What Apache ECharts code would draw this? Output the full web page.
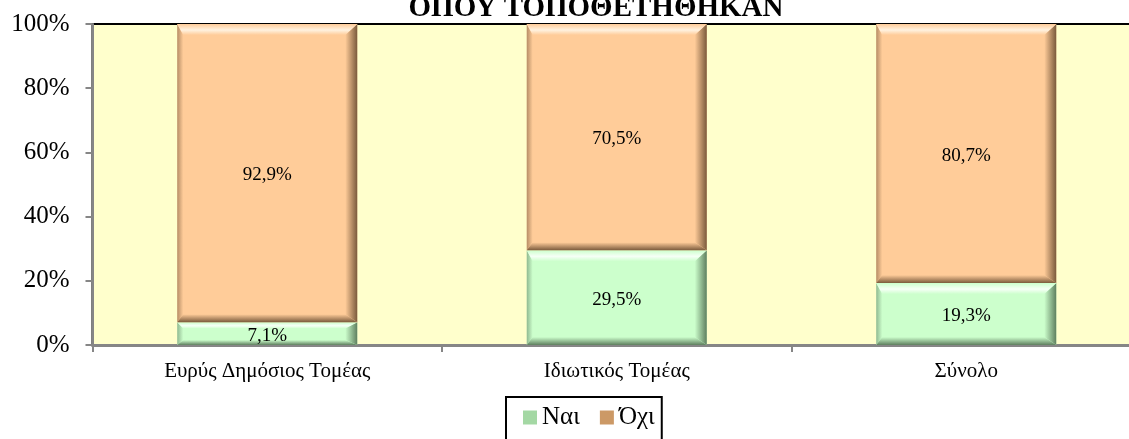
<!DOCTYPE html>
<html>
<head>
<meta charset="utf-8">
<script src="https://cdn.jsdelivr.net/npm/echarts@6/dist/echarts.min.js"></script>
<style>
html,body{margin:0;padding:0;background:#fff;}
#chart{width:1129px;height:439px;}
</style>
</head>
<body>
<div id="chart"></div>
<script>
const categories = ['Ευρύς Δημόσιος Τομέας', 'Ιδιωτικός Τομέας', 'Σύνολο'];
const naiValues = [7.1, 29.5, 19.3];
const oxiValues = [92.9, 70.5, 80.7];
const seriesNames = ['Ναι', 'Όχι'];
const titleText = 'ΟΠΟΥ ΤΟΠΟΘΕΤΗΘΗΚΑΝ';

const FONT = 'Liberation Serif';

function fmt(v) { return v.toFixed(1).replace('.', ',') + '%'; }

function makeRender(base, light, dark) {
  return function (params, api) {
    const i = api.value(0), s = api.value(1), e = api.value(2);
    const pT = api.coord([i, e]);
    const pB = api.coord([i, s]);
    const bw = api.size([1, 0])[0] * 0.515;
    const x0 = pT[0] - bw / 2, x1 = pT[0] + bw / 2;
    const yT = pT[1], yB = pB[1];
    const h = yB - yT;
    const bt = Math.min(11, h * 0.28);
    const bb = Math.min(8, h * 0.22);
    const bl = 6, br = 12;
    return {
      type: 'group',
      children: [
        { type: 'rect', shape: { x: x0, y: yT, width: bw, height: h }, style: { fill: base } },
        { type: 'polygon', shape: { points: [[x0, yT], [x0 + bl, yT + bt], [x0 + bl, yB - bb], [x0, yB]] },
          style: { fill: { type: 'linear', x: 0, y: 0, x2: 1, y2: 0, colorStops: [{ offset: 0, color: dark }, { offset: 1, color: base }] }, opacity: 0.55 } },
        { type: 'polygon', shape: { points: [[x1, yT], [x1, yB], [x1 - br, yB - bb], [x1 - br, yT + bt]] },
          style: { fill: { type: 'linear', x: 0, y: 0, x2: 1, y2: 0, colorStops: [{ offset: 0, color: base }, { offset: 1, color: dark }] } } },
        { type: 'polygon', shape: { points: [[x0, yB], [x1, yB], [x1 - br, yB - bb], [x0 + bl, yB - bb]] },
          style: { fill: { type: 'linear', x: 0, y: 0, x2: 0, y2: 1, colorStops: [{ offset: 0, color: base }, { offset: 1, color: dark }] } } },
        { type: 'polygon', shape: { points: [[x0, yT], [x1, yT], [x1 - br, yT + bt], [x0 + bl, yT + bt]] },
          style: { fill: { type: 'linear', x: 0, y: 0, x2: 0, y2: 1, colorStops: [{ offset: 0, color: base }, { offset: 0.55, color: light }, { offset: 1, color: base }] } } },
        { type: 'text', style: { text: fmt(e - s), x: pT[0], y: (yT + yB) / 2 + 2, align: 'center', verticalAlign: 'middle', fontSize: 19, fontFamily: FONT, fill: '#000' } }
      ]
    };
  };
}

const naiData = categories.map((c, i) => [i, 0, naiValues[i]]);
const oxiData = categories.map((c, i) => [i, naiValues[i], naiValues[i] + oxiValues[i]]);

const chart = echarts.init(document.getElementById('chart'), null, { renderer: 'canvas' });
chart.setOption({
  backgroundColor: '#ffffff',
  animation: false,
  textStyle: { fontFamily: FONT },
  title: {
    text: titleText,
    left: 591, textAlign: 'center',
    top: -11,
    textStyle: { fontFamily: FONT, fontWeight: 'bold', fontSize: 29, color: '#000', lineHeight: 29 }
  },
  legend: {
    data: seriesNames,
    left: 506, top: 397,
    orient: 'horizontal',
    icon: 'rect',
    itemWidth: 14, itemHeight: 14, itemGap: 20,
    padding: [8, 7, 14, 17],
    borderColor: '#000', borderWidth: 2,
    textStyle: { fontFamily: FONT, fontSize: 25, color: '#000', padding: [0, 0, 0, 0] }
  },
  grid: {
    left: 92.5, width: 1048.5, top: 24, height: 321,
    outerBoundsMode: 'none',
    containLabel: false,
    show: true, backgroundColor: '#FFFFCC', borderColor: '#000', borderWidth: 2
  },
  xAxis: {
    type: 'category',
    data: categories,
    boundaryGap: true,
    axisLine: { lineStyle: { color: '#868686', width: 3 } },
    axisTick: { show: true, length: 7, lineStyle: { color: '#868686', width: 2 } },
    axisLabel: { fontFamily: FONT, fontSize: 21, color: '#000', margin: 16 },
    splitLine: { show: false }
  },
  yAxis: {
    type: 'value',
    min: 0, max: 100, interval: 20,
    axisLine: { show: true, lineStyle: { color: '#868686', width: 2 } },
    axisTick: { show: true, length: 7, lineStyle: { color: '#868686', width: 2 } },
    axisLabel: { fontFamily: FONT, fontSize: 25, color: '#000', margin: 23, formatter: '{value}%' },
    splitLine: { show: false }
  },
  series: [
    {
      name: seriesNames[0], type: 'custom',
      itemStyle: { color: '#a4d8a4' },
      encode: { x: 0, y: [1, 2] },
      data: naiData,
      renderItem: makeRender('#CCFFCC', '#F6FFF6', '#5f7f5f')
    },
    {
      name: seriesNames[1], type: 'custom',
      itemStyle: { color: '#cc9966' },
      encode: { x: 0, y: [1, 2] },
      data: oxiData,
      renderItem: makeRender('#FFCC99', '#FFF2E0', '#7a5a3c')
    }
  ]
});
</script>
</body>
</html>
